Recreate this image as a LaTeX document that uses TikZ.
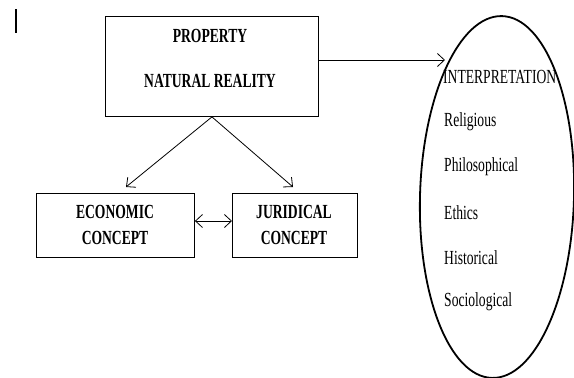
\documentclass[tikz,border=0pt]{standalone}
\usepackage{fontspec}
\setmainfont{Liberation Serif}
\newfontfamily\tnr[FakeStretch=0.68]{Liberation Serif}
\usetikzlibrary{arrows.meta,shapes.geometric}
\tikzset{
  box/.style={draw, line width=0.9pt, inner sep=0pt, anchor=north west},
  lbl/.style={font=\tnr\fontsize{20}{23}\selectfont\bfseries, inner sep=0pt},
  item/.style={font=\tnr\fontsize{20}{23}\selectfont, inner sep=0pt, anchor=west},
  conn/.style={line width=0.8pt, -{Straight Barb[length=7pt,width=13pt,line width=0.8pt]}},
  dconn/.style={line width=0.8pt, {Straight Barb[length=7pt,width=13pt,line width=0.8pt]}-{Straight Barb[length=7pt,width=13pt,line width=0.8pt]}}
}
\begin{document}
\begin{tikzpicture}[x=1pt,y=-1pt]
\useasboundingbox (0,0) rectangle (574,378);
% cursor mark
\draw[line width=1.3pt] (16,9) -- (16,33);
% boxes
\node[box, minimum width=213pt, minimum height=100pt] (top) at (105,16) {};
\node[box, minimum width=158pt, minimum height=64pt] (eco) at (36,193) {};
\node[box, minimum width=125pt, minimum height=64pt] (jur) at (232,193) {};
% box texts
\node[lbl] (t1) at (210,36) {PROPERTY};
\node[lbl] (t2) at (210,81) {NATURAL REALITY};
\node[lbl] (e1) at (115,212) {ECONOMIC};
\node[lbl] (e2) at (115,238) {CONCEPT};
\node[lbl] (j1) at (294,212) {JURIDICAL};
\node[lbl] (j2) at (294,238) {CONCEPT};
% ellipse
\node[draw, ellipse, line width=1.8pt, minimum width=154pt, minimum height=362pt, rotate=-1.6] (ell) at (497,197) {};
\node[item] (i0) at (443,77) {INTERPRETATION};
\node[item] (i1) at (444,122) {Religious};
\node[item] (i2) at (444,167) {Philosophical};
\node[item] (i3) at (444,213) {Ethics};
\node[item] (i4) at (444,258) {Historical};
\node[item] (i5) at (444,302) {Sociological};
% connectors
\coordinate (ptip) at (445,60);
\coordinate (ecotip) at (126,187);
\coordinate (jurtip) at (293,187);
\draw[conn] (top.east |- ptip) -- (ptip);
\draw[conn] (top.south) -- (ecotip);
\draw[conn] (top.south) -- (jurtip);
\draw[dconn] (eco.east |- 0,221) -- (jur.west |- 0,221);
\end{tikzpicture}
\end{document}
